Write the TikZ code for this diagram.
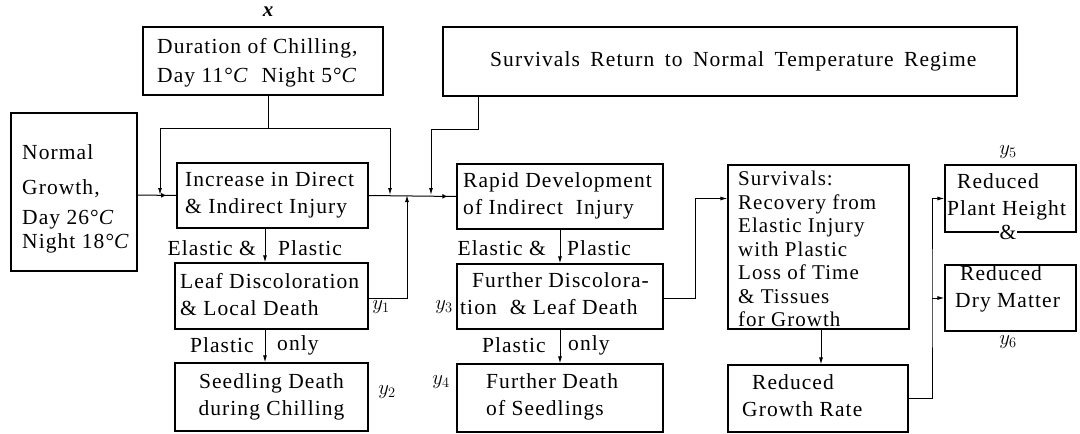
\documentclass[tikz,border=0pt]{standalone}
\usepackage{fontspec}
\setmainfont{Liberation Serif}
\newfontfamily\tf[LetterSpace=5]{Liberation Serif}
\usetikzlibrary{arrows.meta,decorations.markings}
\newcommand{\myC}{\textdegree\textit{C}}
\begin{document}
\begin{tikzpicture}[x=1pt,y=-1pt,
  box/.style={draw, line width=1.1pt, inner sep=0pt},
  txt/.style={font=\tf\fontsize{21.5}{27}\selectfont, align=left, inner sep=0pt, anchor=west},
  lab/.style={font=\tf\fontsize{21.5}{23}\selectfont, inner sep=0pt},
  ln/.style={line width=1pt},
  arr/.style={line width=1pt, -{Latex[length=7pt,width=4pt]}},
  ytag/.style={font=\fontsize{21}{22}\selectfont, inner sep=0pt},
  inmark/.style={line width=1pt, postaction={decorate},
    decoration={markings, mark=at position #1 with {\arrow{Triangle[open,length=4.5pt,width=4.5pt]}}}}
]
\useasboundingbox (0,0) rectangle (1080,434);
\fill[white] (0,0) rectangle (1080,434);

% boxes
\node[box, minimum width=240pt, minimum height=68pt] (chill) at (263,61) {};
\node[box, minimum width=126pt, minimum height=158pt] (normal) at (74,192) {};
\node[box, minimum width=191pt, minimum height=65pt] (inc) at (272.5,195.5) {};
\node[box, minimum width=574pt, minimum height=69pt] (surret) at (730,61.5) {};
\node[box, minimum width=206pt, minimum height=65pt] (rapid) at (560,196.5) {};
\node[box, minimum width=193pt, minimum height=66pt] (leaf) at (271.5,296) {};
\node[box, minimum width=193pt, minimum height=68pt] (seed) at (271.5,397) {};
\node[box, minimum width=206pt, minimum height=65pt] (furdis) at (560,296.5) {};
\node[box, minimum width=206pt, minimum height=68pt] (furdeath) at (560,398) {};
\node[box, minimum width=181pt, minimum height=164pt] (surv) at (818.5,247) {};
\node[box, minimum width=180pt, minimum height=67pt] (rgr) at (818,398.5) {};
\node[box, minimum width=131pt, minimum height=67pt] (rph) at (1010.5,198.5) {};
\node[box, minimum width=131pt, minimum height=66pt] (rdm) at (1010.5,298) {};

% texts
\node[txt] (tchill) at (157,62.5) {Duration of Chilling,\\[2pt]Day 11\myC\ \ Night 5\myC};
\node[txt] (tnormal) at (22,199) {Normal\\[8pt]Growth,\\[3pt]Day 26\myC\\[-3pt]Night 18\myC};
\node[txt] (tinc) at (185,195.5) {Increase in Direct\\\& Indirect Injury};
\node[txt] (tsurret) at (490,61.5) {Survivals\hspace{4pt} Return\hspace{4pt} to\hspace{4pt} Normal\hspace{4pt} Temperature\hspace{4pt} Regime};
\node[txt] (trapid) at (463,196) {Rapid Development\\of Indirect\ \ Injury};
\node[txt] (tleaf) at (180,295) {Leaf Discoloration\\\& Local Death};
\node[txt, anchor=center, align=center] (tseed) at (271.5,397) {Seedling Death\\during Chilling};
\node[txt] (tfurdis) at (460,294) {\hspace*{12pt}Further Discolora-\\tion\ \ \& Leaf Death};
\node[txt] (tfurdeath) at (486,396.5) {Further Death\\of Seedlings};
\node[txt, font=\tf\fontsize{21}{23.5}\selectfont] (tsurv) at (738,249) {Survivals:\\Recovery from\\Elastic Injury\\with Plastic\\Loss of Time\\\& Tissues\\for Growth};
\node[txt] (trgr) at (742,395.5) {\hspace*{10pt}Reduced\\Growth Rate};
\node[txt] (trph) at (947,196.5) {\hspace*{10pt}Reduced\\Plant Height};
\node[txt] (trdm) at (955,289) {\hspace*{5pt}Reduced\\Dry Matter};
\node[font=\tf\fontsize{21.5}{23}\selectfont, fill=white, inner sep=1pt] (amp) at (1008,232) {\&};

% tags
\node[ytag] (tx) at (268,12) {\textbf{\textit{x}}};
\node[ytag] (ty1) at (381,307) {$y_1$};
\node[ytag] (ty2) at (387,392) {$y_2$};
\node[ytag] (ty3) at (444,307) {$y_3$};
\node[ytag] (ty4) at (441,382) {$y_4$};
\node[ytag] (ty5) at (1008,152) {$y_5$};
\node[ytag] (ty6) at (1008,342) {$y_6$};

% arrow labels
\node[lab, anchor=east] (e1) at (256,248) {Elastic \&};
\node[lab, anchor=west] (p1) at (278,248) {Plastic};
\node[lab, anchor=east] (p2) at (254,345) {Plastic};
\node[lab, anchor=west] (o2) at (277,345) {only};
\node[lab, anchor=east] (e3) at (546,248) {Elastic \&};
\node[lab, anchor=west] (p3) at (567,248) {Plastic};
\node[lab, anchor=east] (p4) at (546,345) {Plastic};
\node[lab, anchor=west] (o4) at (568,345) {only};

% junction coordinates
\coordinate (jA) at (160,195);
\coordinate (jB) at (390,195);
\coordinate (jC) at (431,195);
\coordinate (jD) at (407,195);
\coordinate (sr) at (478,96);
\coordinate (bus) at (932,298);

% connectors
\draw[inmark=0.72] (normal.east |- jA) -- (inc.west);
\draw[inmark=0.89] (inc.east) -- (rapid.west);
\draw[ln] ([xshift=5pt]chill.south) -- ++(0,33) coordinate (cj);
\draw[arr] (cj) -| (jA);
\draw[arr] (cj) -| (jB);
\draw[arr] (sr) -- ++(0,33) -| (jC);
\draw[arr] (leaf.east |- 0,298) -| (jD);
\draw[arr] (inc.south -| 265,0) -- (leaf.north -| 265,0);
\draw[arr] (leaf.south -| 265,0) -- (seed.north -| 265,0);
\draw[arr] (rapid.south) -- (furdis.north);
\draw[arr] (furdis.south) -- (furdeath.north);
\draw[arr] (furdis.east |- 0,298) -- ++(32,0) |- (surv.west |- rph.west);
\draw[arr] (surv.south -| 821,0) -- (rgr.north -| 821,0);
\draw[arr] (rgr.east) -| (bus) |- (rph.west);
\draw[arr] (bus) -- (rdm.west);
\end{tikzpicture}
\end{document}
